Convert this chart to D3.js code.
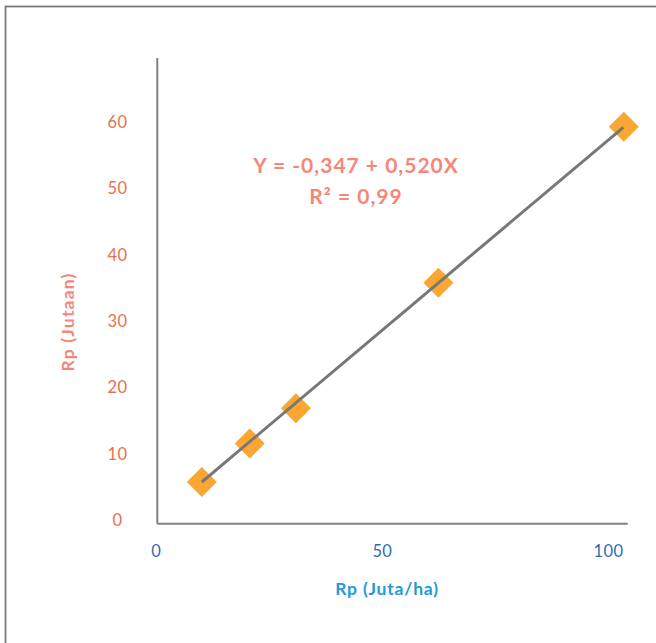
<!DOCTYPE html>
<html>
<head>
<meta charset="utf-8">
<script src="https://cdn.jsdelivr.net/npm/d3@7"></script>
<style>
  html, body { margin: 0; padding: 0; background: #fff; }
  svg { display: block; font-family: Lato, "Open Sans", sans-serif; }
</style>
</head>
<body>
<div id="chart"></div>
<script>
// data
const xValues = [10.2, 20.8, 31.0, 62.5, 103.5];
const yValues = [5.8, 11.6, 16.9, 35.8, 59.3];
const fitX = [10.2, 103.4];
const fitY = [5.8, 59.2];
const xTicks = [0, 50, 100];
const yTicks = [0, 10, 20, 30, 40, 50, 60];
const equationLines = ['Y = -0,347 + 0,520X', 'R² = 0,99'];
const xTitle = 'Rp (Juta/ha)';
const yTitle = 'Rp (Jutaan)';

const width = 656;
const height = 643;

const xScale = d3.scaleLinear().domain([0, 100]).range([155.7, 608]);
const yScale = d3.scaleLinear().domain([0, 60]).range([520.5, 122]);

const svg = d3.select('#chart')
  .append('svg')
    .attr('width', width)
    .attr('height', height);

// outer frame, runs off the right and bottom edge
svg.append('rect')
  .attr('x', 5.5)
  .attr('y', 6.5)
  .attr('width', 700)
  .attr('height', 700)
  .attr('fill', 'none')
  .attr('stroke', '#7a7a7a')
  .attr('stroke-width', 1.8);

// axis lines
svg.append('line')
  .attr('x1', 157.3).attr('x2', 157.3)
  .attr('y1', 58).attr('y2', 523.7)
  .attr('stroke', '#808080')
  .attr('stroke-width', 2);

svg.append('line')
  .attr('x1', 157.3).attr('x2', 627.7)
  .attr('y1', 523.7).attr('y2', 523.7)
  .attr('stroke', '#808080')
  .attr('stroke-width', 2);

// tick labels through d3 axes, no tick marks
const yAxis = svg.append('g')
  .attr('transform', 'translate(117.5, 0)')
  .call(d3.axisLeft(yScale).tickValues(yTicks).tickSize(0).tickPadding(0));
yAxis.select('.domain').remove();
yAxis.selectAll('text')
  .attr('text-anchor', 'middle')
  .attr('font-family', 'Lato, sans-serif')
  .attr('font-size', 16.5)
  .attr('letter-spacing', 0.4)
  .attr('fill', '#E8704F');

const xAxis = svg.append('g')
  .attr('transform', 'translate(0, 551)')
  .call(d3.axisBottom(xScale).tickValues(xTicks).tickSize(0).tickPadding(0));
xAxis.select('.domain').remove();
xAxis.selectAll('text')
  .attr('dy', '0.35em')
  .attr('font-family', 'Lato, sans-serif')
  .attr('font-size', 16.5)
  .attr('letter-spacing', 0.4)
  .attr('fill', '#2F6DB3');

// axis titles
svg.append('text')
  .attr('x', 387)
  .attr('y', 595)
  .attr('text-anchor', 'middle')
  .attr('font-size', 17.5)
  .attr('font-weight', 'bold')
  .attr('letter-spacing', 0.8)
  .attr('fill', '#1E9AD6')
  .text(xTitle);

svg.append('text')
  .attr('transform', 'translate(74, 322) rotate(-90)')
  .attr('text-anchor', 'middle')
  .attr('font-size', 17.5)
  .attr('font-weight', 'bold')
  .attr('letter-spacing', 1.2)
  .attr('fill', '#F4877A')
  .text(yTitle);

// regression equation
svg.append('g')
  .selectAll('text')
  .data(equationLines)
  .join('text')
    .attr('x', 356)
    .attr('y', (d, i) => 172.5 + i * 31.5)
    .attr('text-anchor', 'middle')
    .attr('font-size', 21)
    .attr('font-weight', 'bold')
    .attr('letter-spacing', 1)
    .attr('fill', '#F4877A')
    .text((d) => d);

// points
const points = xValues.map((x, i) => ({ x: x, y: yValues[i] }));
svg.append('g')
  .selectAll('path')
  .data(points)
  .join('path')
    .attr('d', d3.symbol(d3.symbolSquare, 450))
    .attr('transform', (d) => `translate(${xScale(d.x)}, ${yScale(d.y)}) rotate(45)`)
    .attr('fill', '#F9A633');

// fitted line on top of the markers
const fit = fitX.map((x, i) => ({ x: x, y: fitY[i] }));
const line = d3.line()
  .x((d) => xScale(d.x))
  .y((d) => yScale(d.y));

svg.append('path')
  .datum(fit)
  .attr('fill', 'none')
  .attr('stroke', '#777777')
  .attr('stroke-width', 3)
  .attr('d', line);
</script>
</body>
</html>
